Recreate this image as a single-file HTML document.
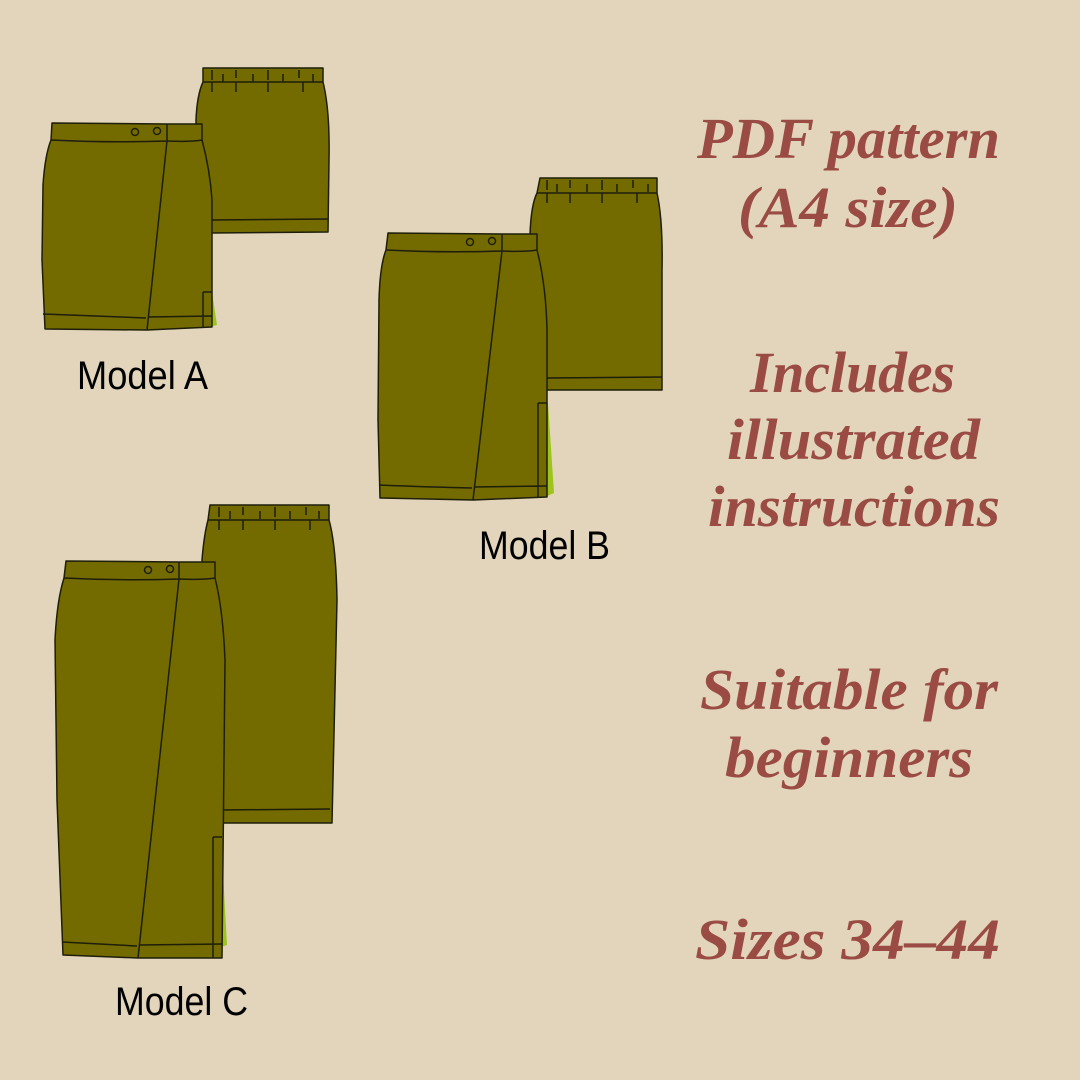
<!DOCTYPE html>
<html><head><meta charset="utf-8"><style>
html,body{margin:0;padding:0;background:#e3d5bb;}
svg{display:block}
.f{fill:#736b00;stroke:#1e1e0a;stroke-width:1.5;stroke-linejoin:round}
.l{fill:none;stroke:#1e1e0a;stroke-width:1.5}
.g{fill:#9ec41c;stroke:none}
.t{font-family:"Liberation Serif",serif;font-style:italic;font-weight:bold;font-size:58px;fill:#9a4b43}
.m{font-family:"Liberation Sans",sans-serif;font-size:40px;fill:#000}
</style></head><body>
<svg width="1080" height="1080" viewBox="0 0 1080 1080" xmlns="http://www.w3.org/2000/svg">
<rect width="1080" height="1080" fill="#e3d5bb"/>

<!-- Model A back -->
<path class="f" d="M203,68 L323,68 L323,82 Q330,110 329,160 L328,232 L212,233 L197,233 L196,120 Q197,95 203,82 Z"/>
<path class="l" d="M203,82 L323,82 M212,220 L328,219"/>
<path class="l" d="M212,70v10 M223,74v8 M236,70v8 M253,74v8 M268,70v10 M283,74v8 M299,70v8 M313,74v8 M212,82v10 M236,82v10 M268,82v10 M303,82v10"/>
<!-- Model A front -->
<path class="g" d="M210,292 L212,292 L217,325 L210,327 Z"/>
<path class="f" d="M52,123 L167,124 L202,124 L202,140 Q210,170 212,200 L212,327 L147,330 L45,329 L42,260 L43,185 Q45,155 51,140 Z"/>
<path class="l" d="M51,140 Q110,143 167,141 Q190,142 202,140 M167,124 L167,141 L147,330 M43,314 Q100,316 146,318 M148,317 L212,316 M203,292 L203,327 M203,292 L212,292"/>
<circle class="l" cx="135" cy="132" r="3.5"/><circle class="l" cx="157" cy="131" r="3.5"/>
<text class="m" x="77" y="389" textLength="131" lengthAdjust="spacingAndGlyphs">Model A</text>

<!-- Model B back -->
<path class="f" d="M540,178 L657,178 L657,193 Q663,220 662,270 L662,390 L547,390 L531,390 L530,235 Q531,205 537,193 Z"/>
<path class="l" d="M537,193 L657,193 M547,378 L662,377"/>
<path class="l" d="M547,180v10 M557,184v8 M570,180v8 M587,184v8 M602,180v10 M617,184v8 M633,180v8 M648,184v8 M547,193v10 M570,193v10 M602,193v10 M637,193v10"/>
<!-- Model B front -->
<path class="g" d="M545,403 L548,403 L554,493 L545,497 Z"/>
<path class="f" d="M388,233 L502,234 L537,234 L537,250 Q546,285 547,330 L547,497 L473,500 L380,498 L378,420 L379,300 Q380,265 386,250 Z"/>
<path class="l" d="M386,250 Q445,253 502,251 Q525,252 537,250 M502,234 L502,251 L473,500 M379,485 Q430,487 472,488 M474,487 L547,486 M538,403 L538,497 M538,403 L547,403"/>
<circle class="l" cx="470" cy="242" r="3.5"/><circle class="l" cx="492" cy="241" r="3.5"/>
<text class="m" x="479" y="559" textLength="131" lengthAdjust="spacingAndGlyphs">Model B</text>

<!-- Model C back -->
<path class="f" d="M210,505 L329,505 L329,520 Q336,545 337,600 L332,823 L220,823 L220,823 L204,700 L202,560 Q204,535 208,520 Z"/>
<path class="l" d="M208,520 L329,520 M220,810 L330,809"/>
<path class="l" d="M219,507v10 M230,511v8 M243,507v8 M260,511v8 M275,507v10 M290,511v8 M306,507v8 M319,511v8 M219,520v10 M243,520v10 M275,520v10 M310,520v10"/>
<!-- Model C front -->
<path class="g" d="M218,837 L221,837 L227,945 L218,948 Z"/>
<path class="f" d="M66,561 L179,562 L215,562 L215,578 Q223,610 225,660 L222,958 L138,958 L63,955 L57,800 L55,640 Q57,600 64,578 Z"/>
<path class="l" d="M64,578 Q122,581 179,579 Q202,580 215,578 M179,562 L179,579 L138,958 M62,942 Q100,944 137,946 M139,945 L222,944 M213,837 L213,958 M213,837 L222,837"/>
<circle class="l" cx="148" cy="570" r="3.5"/><circle class="l" cx="170" cy="569" r="3.5"/>
<text class="m" x="115" y="1015" textLength="133" lengthAdjust="spacingAndGlyphs">Model C</text>

<!-- Right text -->
<text class="t" x="697" y="158" textLength="303" lengthAdjust="spacingAndGlyphs">PDF pattern</text>
<text class="t" x="738" y="227" textLength="220" lengthAdjust="spacingAndGlyphs">(A4 size)</text>
<text class="t" x="750" y="392" textLength="205" lengthAdjust="spacingAndGlyphs">Includes</text>
<text class="t" x="727" y="459" textLength="253" lengthAdjust="spacingAndGlyphs">illustrated</text>
<text class="t" x="708" y="526" textLength="292" lengthAdjust="spacingAndGlyphs">instructions</text>
<text class="t" x="700" y="709" textLength="298" lengthAdjust="spacingAndGlyphs">Suitable for</text>
<text class="t" x="725" y="777" textLength="248" lengthAdjust="spacingAndGlyphs">beginners</text>
<text class="t" x="695" y="959" textLength="305" lengthAdjust="spacingAndGlyphs">Sizes 34–44</text>
</svg>
</body></html>
